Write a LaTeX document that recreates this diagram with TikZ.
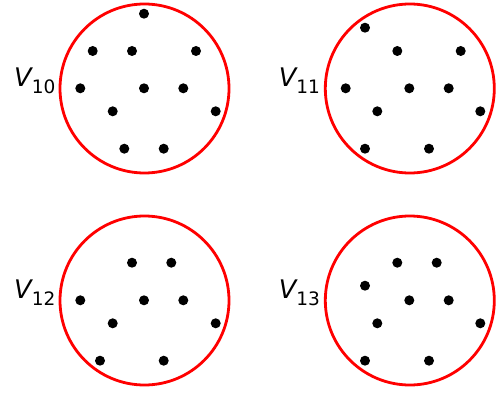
\documentclass[tikz,border=0pt]{standalone}
\usepackage{fontspec}
\setmainfont{DejaVu Sans}
\begin{document}
\begin{tikzpicture}[x=1pt,y=-1pt,
  ring/.style={draw=red, line width=2.8pt},
  pt/.style={circle, fill=black, inner sep=0pt, minimum size=10pt},
  setlabel/.style={anchor=base east, inner sep=0pt}]
\useasboundingbox (0,0) rectangle (500,393);
\newcommand{\setname}[1]{{\fontsize{25.6}{26}\selectfont\itshape V}{\fontsize{18.5}{19}\selectfont\raisebox{-6.6pt}{#1}}}

% V_10
\draw[ring] (144.5,88.5) circle (84.5);
\node[setlabel] (l10) at (55.5,86.7) {\setname{10}};
\foreach \x/\y [count=\i] in {144/13.7, 92.7/51, 132/51, 196/51, 80.3/88.3, 144/88.3,
  183.3/88.3, 112.7/111.3, 215.7/111.3, 124.3/148.7, 163.7/148.7}
  \node[pt] (a\i) at (\x,\y) {};

% V_11
\draw[ring] (409.8,88.5) circle (84.5);
\node[setlabel] (l11) at (320,86.7) {\setname{11}};
\foreach \x/\y [count=\i] in {365/27.7, 397.3/51, 460.7/51, 345.7/88.3, 409.3/88.3,
  448.7/88.3, 377.3/111.3, 480.3/111.3, 365/148.7, 429/148.7}
  \node[pt] (b\i) at (\x,\y) {};

% V_12
\draw[ring] (144.5,300.5) circle (84.5);
\node[setlabel] (l12) at (55.5,298.7) {\setname{12}};
\foreach \x/\y [count=\i] in {132/262.7, 171.3/262.7, 80.3/300.3, 144/300.3, 183.3/300.3,
  112.7/323.3, 215.7/323.3, 100/360.7, 163.7/360.7}
  \node[pt] (c\i) at (\x,\y) {};

% V_13
\draw[ring] (409.8,300.5) circle (84.5);
\node[setlabel] (l13) at (320,298.7) {\setname{13}};
\foreach \x/\y [count=\i] in {397.3/262.7, 436.7/262.7, 365/285.7, 409.3/300.3, 448.7/300.3,
  377.3/323.3, 480.3/323.3, 365/360.7, 429/360.7}
  \node[pt] (d\i) at (\x,\y) {};
\end{tikzpicture}
\end{document}
